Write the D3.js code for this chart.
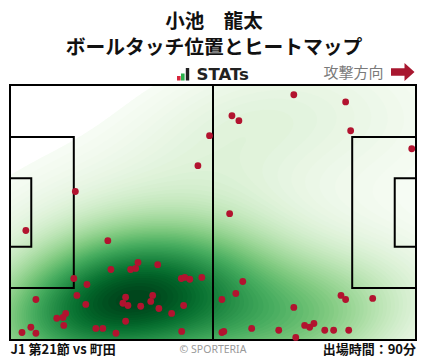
<!DOCTYPE html>
<html>
<head>
<meta charset="utf-8">
<script src="https://cdn.jsdelivr.net/npm/d3@7"></script>
<style>
  html, body { margin: 0; padding: 0; background: #fff; }
  svg { display: block; }
</style>
</head>
<body>
<svg id="chart" width="428" height="359"></svg>
<script>
// Ball touch locations (pitch metres, x: 0-105 own goal -> opponent goal, y: 0-68 top -> bottom)
const touchX = [51.6, 48.6, 16.9, 73.4, 86.8, 57.4, 59.2, 88.1, 103.9, 56.8,
  4.1, 25.3, 33.1, 38.2, 26.1, 31.2, 32.5, 16.5, 44.3, 45.2,
  46.5, 49.6, 19.9, 6.7, 17.3, 29.9, 36.9, 19.6, 29.2, 30.5,
  36.4, 33.8, 38.5, 44.9, 14.4, 12.1, 13.7, 41.8, 29.9, 13.9,
  5.4, 22.2, 24.0, 3.1, 6.7, 27.4, 44.4,
  60.2, 58.4, 54.8, 85.6, 86.8, 93.8, 73.4, 76.2, 77.5, 78.6,
  62.5, 69.5, 81.4, 83.7, 87.6, 54.8, 55.3, 73.9];
const touchY = [13.5, 21.5, 28.4, 2.6, 4.5, 8.2, 9.5, 12.2, 17.0, 34.3,
  38.8, 41.5, 47.3, 47.9, 49.2, 49.2, 48.9, 51.6, 51.6, 51.3,
  51.8, 51.3, 53.2, 57.2, 56.1, 56.6, 56.1, 58.5, 58.2, 58.8,
  57.7, 59.0, 59.6, 58.8, 60.9, 62.2, 62.0, 60.9, 63.0, 64.1,
  64.6, 64.9, 64.9, 66.0, 66.2, 66.2, 65.7,
  52.4, 55.6, 57.2, 56.1, 57.2, 56.9, 59.3, 64.1, 64.6, 63.6,
  64.9, 65.4, 65.4, 65.4, 65.4, 66.0, 65.7, 67.3];

const titleLines = ["小池　龍太", "ボールタッチ位置とヒートマップ"];
const matchLabel = "J1 第21節 vs 町田";
const minutesLabel = "出場時間：90分";
const attackLabel = "攻撃方向";
const creditLabel = "© SPORTERIA";

const PITCH_L = 105, PITCH_W = 68;

const svg = d3.select("#chart");
const x = d3.scaleLinear().domain([0, PITCH_L]).range([10, 416]);
const y = d3.scaleLinear().domain([0, PITCH_W]).range([85, 340]);

// ---- Gaussian KDE (full covariance, widened Scott bandwidth) ----
const n = touchX.length;
const mx = d3.mean(touchX), my = d3.mean(touchY);
let sxx = 0, syy = 0, sxy = 0;
for (let i = 0; i < n; i++) {
  const dx = touchX[i] - mx, dy = touchY[i] - my;
  sxx += dx * dx; syy += dy * dy; sxy += dx * dy;
}
sxx /= (n - 1); syy /= (n - 1); sxy /= (n - 1);
const bwAdjust = 1.5;
const f2 = Math.pow(n, -1 / 3) * bwAdjust * bwAdjust;
const hxx = sxx * f2, hyy = syy * f2, hxy = sxy * f2;
const det = hxx * hyy - hxy * hxy;
const ixx = hyy / det, iyy = hxx / det, ixy = -hxy / det;
const norm = 1 / (2 * Math.PI * Math.sqrt(det) * n);

const step = 0.5;
const gx0 = -45, gx1 = 150, gy0 = -35, gy1 = 103;
const nx = Math.round((gx1 - gx0) / step) + 1;
const ny = Math.round((gy1 - gy0) / step) + 1;
const grid = new Float64Array(nx * ny);
for (let j = 0; j < ny; j++) {
  const py = gy0 + j * step;
  for (let i = 0; i < nx; i++) {
    const px = gx0 + i * step;
    let s = 0;
    for (let k = 0; k < n; k++) {
      const dx = px - touchX[k], dy = py - touchY[k];
      s += Math.exp(-0.5 * (ixx * dx * dx + 2 * ixy * dx * dy + iyy * dy * dy));
    }
    grid[j * nx + i] = s * norm;
  }
}

// lowest level: density below which 5% of the probability mass lies
const sorted = Array.from(grid).sort((a, b) => a - b);
const total = d3.sum(sorted);
let acc = 0, lowLevel = sorted[0];
for (let i = 0; i < sorted.length; i++) {
  acc += sorted[i];
  if (acc / total >= 0.05) { lowLevel = sorted[i]; break; }
}
const maxLevel = d3.max(sorted);
const nLevels = 70;
const levels = d3.range(nLevels).map(i => lowLevel + (maxLevel - lowLevel) * i / (nLevels - 1));
const color = t => d3.interpolateGreens(t);

const contours = d3.contours().size([nx, ny]).thresholds(levels)(grid);
const toPixel = d3.geoTransform({
  point: function (cx, cy) {
    this.stream.point(x(gx0 + (cx - 0.5) * step), y(gy0 + (cy - 0.5) * step));
  }
});
const path = d3.geoPath(toPixel);

svg.append("clipPath").attr("id", "pitch-clip")
  .append("rect")
  .attr("x", x(0)).attr("y", y(0))
  .attr("width", x(PITCH_L) - x(0)).attr("height", y(PITCH_W) - y(0));

const heat = svg.append("g").attr("clip-path", "url(#pitch-clip)");
heat.selectAll("path")
  .data(contours.slice(0, nLevels - 1))
  .join("path")
  .attr("d", path)
  .attr("fill", (d, i) => color((i + 0.5) / (nLevels - 1)))
  .attr("stroke", "none");

// ---- Pitch markings ----
const lines = svg.append("g")
  .attr("fill", "none").attr("stroke", "#000").attr("stroke-width", 2);
lines.append("rect")
  .attr("x", x(0)).attr("y", y(0))
  .attr("width", x(PITCH_L) - x(0)).attr("height", y(PITCH_W) - y(0));
lines.append("line")
  .attr("x1", x(PITCH_L / 2)).attr("x2", x(PITCH_L / 2))
  .attr("y1", y(0)).attr("y2", y(PITCH_W));
const boxes = [
  { d: 16.5, w: 40.32 },
  { d: 5.5, w: 18.32 }
];
boxes.forEach(b => {
  const top = (PITCH_W - b.w) / 2, bot = (PITCH_W + b.w) / 2;
  lines.append("path").attr("d",
    `M${x(0)},${y(top)}H${x(b.d)}V${y(bot)}H${x(0)}`);
  lines.append("path").attr("d",
    `M${x(PITCH_L)},${y(top)}H${x(PITCH_L - b.d)}V${y(bot)}H${x(PITCH_L)}`);
});

// ---- Touch points ----
svg.append("g").selectAll("circle")
  .data(d3.range(n))
  .join("circle")
  .attr("cx", i => x(touchX[i]))
  .attr("cy", i => y(touchY[i]))
  .attr("r", 3.4)
  .attr("fill", "#b2132f");

// ---- Titles ----
const jp = "'Noto Sans CJK JP', 'Noto Sans', sans-serif";
svg.append("text").attr("x", 214).attr("y", 27.5)
  .attr("text-anchor", "middle").attr("font-family", jp)
  .attr("font-weight", 700).attr("font-size", 19.5).attr("fill", "#111")
  .text(titleLines[0]);
svg.append("text").attr("x", 214).attr("y", 53.5)
  .attr("text-anchor", "middle").attr("font-family", jp)
  .attr("font-weight", 700).attr("font-size", 19.8).attr("fill", "#111")
  .text(titleLines[1]);

// STATs logo
const logo = svg.append("g");
logo.append("rect").attr("x", 177).attr("y", 76).attr("width", 3.6).attr("height", 4.5).attr("fill", "#d7263d");
logo.append("rect").attr("x", 181).attr("y", 73.5).attr("width", 3.6).attr("height", 7).attr("fill", "#2bb24c");
logo.append("rect").attr("x", 185.8).attr("y", 68).attr("width", 3.4).attr("height", 12.5).attr("fill", "#222");
logo.append("text").attr("x", 196.5).attr("y", 80.3)
  .attr("font-family", "'DejaVu Sans', sans-serif").attr("font-weight", 700)
  .attr("font-size", 16).attr("fill", "#222")
  .attr("textLength", 52.5).attr("lengthAdjust", "spacingAndGlyphs")
  .text("STATs");

// Attack direction
svg.append("text").attr("x", 383.5).attr("y", 77.5)
  .attr("text-anchor", "end").attr("font-family", jp)
  .attr("font-size", 15).attr("fill", "#7a7a7a")
  .text(attackLabel);
svg.append("path")
  .attr("d", "M391,68.3H404.5V63L414.5,72L404.5,81V75.7H391Z")
  .attr("fill", "#a8172f");

// Footer
svg.append("text").attr("x", 10.5).attr("y", 353.5)
  .attr("font-family", jp).attr("font-weight", 700)
  .attr("font-size", 13).attr("fill", "#111")
  .text(matchLabel);
svg.append("text").attr("x", 213).attr("y", 352.5)
  .attr("text-anchor", "middle").attr("font-family", "'Noto Sans', sans-serif")
  .attr("font-size", 10.5).attr("fill", "#999")
  .text(creditLabel);
svg.append("text").attr("x", 416).attr("y", 353.5)
  .attr("text-anchor", "end").attr("font-family", jp).attr("font-weight", 700)
  .attr("font-size", 13).attr("fill", "#111")
  .text(minutesLabel);
</script>
</body>
</html>
